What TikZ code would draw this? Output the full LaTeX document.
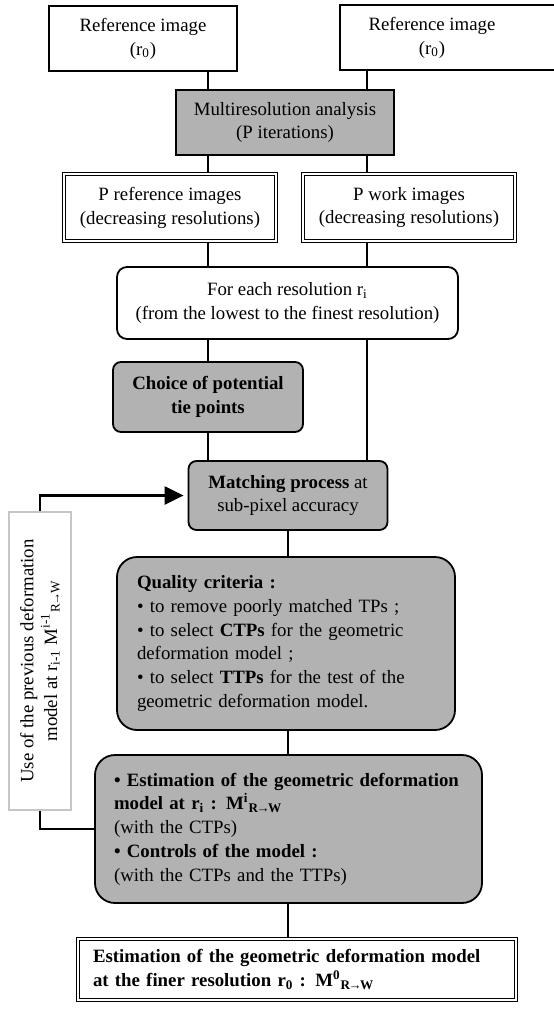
\documentclass[tikz,border=0pt]{standalone}
\usepackage{fontspec}
\setmainfont{Liberation Serif}
\usetikzlibrary{arrows.meta, positioning}

\newcommand{\RtoW}{R\kern-0.12em→\kern-0.12emW}

\begin{document}
\begin{tikzpicture}[x=0.5pt, y=-0.5pt, line width=0.9pt,
    every node/.style={font={\fontsize{9.4pt}{11.9pt}\selectfont}, align=center, inner sep=0pt},
    plainbox/.style={draw, rectangle},
    greybox/.style={draw, rectangle, fill=gray!60},
    doublebox/.style={draw, rectangle, double, line width=0.6pt, double distance=1.2pt},
    roundbox/.style={draw, rounded corners=5pt},
    greyround/.style={draw, rounded corners=#1, fill=gray!60},
    loopline/.style={line width=1.2pt},
    >={Triangle[length=9.5pt, width=9pt]}]
    \useasboundingbox (0,0) rectangle (553,1009);

    \node[plainbox, minimum width=94pt, minimum height=32.5pt] (refL) at (143,38.5) {Reference image\\(r\textsubscript{0})};
    \node[plainbox, minimum width=110pt, minimum height=32.5pt,
          label={[xshift=-9pt, align=center]center:Reference image\\(r\textsubscript{0})}] (refR) at (450,37.5) {};
    \node[greybox, minimum width=109pt, minimum height=32.5pt] (multi) at (285,122.5) {Multiresolution analysis\\(P iterations)};
    \node[doublebox, minimum width=106pt, minimum height=33.5pt] (prefs) at (170,207.5) {P reference images\\(decreasing resolutions)};
    \node[doublebox, minimum width=106pt, minimum height=33.5pt] (pwork) at (409,207.5) {P work images\\(decreasing resolutions)};
    \node[roundbox, minimum width=170.5pt, minimum height=36pt] (foreach) at (287.5,303) {For each resolution r\textsubscript{i}\\(from the lowest to the finest resolution)};
    \node[greyround=4pt, minimum width=95pt, minimum height=35pt, font={\fontsize{9.4pt}{11.9pt}\selectfont\bfseries}] (choice) at (208,397) {Choice of potential\\tie points};
    \node[greyround=4pt, minimum width=99.5pt, minimum height=34.5pt] (match) at (288,495.5) {\textbf{Matching process} at\\sub-pixel accuracy};
    \node[greyround=10pt, minimum width=169pt, minimum height=86.5pt, text width=149pt, inner xsep=10pt, align=left] (quality) at (286,643.5)
        {\textbf{Quality criteria :}\\• to remove poorly matched TPs ;\\• to select \textbf{CTPs} for the geometric\\deformation model ;\\• to select \textbf{TTPs} for the test of the\\geometric deformation model.};
    \node[greyround=10pt, minimum width=193.5pt, minimum height=74pt, text width=174.5pt, inner xsep=9.5pt, align=left] (estim) at (288.5,829)
        {\textbf{• Estimation of the geometric deformation}\\\textbf{model at r\textsubscript{i} : M\textsuperscript{i}\textsubscript{\RtoW}}\\(with the CTPs)\\\textbf{• Controls of the model :}\\(with the CTPs and the TTPs)};
    \node[doublebox, minimum width=219pt, minimum height=30.5pt, text width=204pt, inner xsep=7.5pt, align=left,
          font={\fontsize{9.4pt}{11.9pt}\selectfont\bfseries}] (final) at (297,969.5)
        {Estimation of the geometric deformation model\\at the finer resolution r\textsubscript{0} : M\textsuperscript{0}\textsubscript{\RtoW}};
    \node[draw=gray!45, rotate=90, minimum width=149pt, minimum height=31pt] (useb) at (40,661)
        {Use of the previous deformation\\model at r\textsubscript{i-1} M\textsuperscript{i-1}\textsubscript{\RtoW}};

    \coordinate (rline) at (367,0);
    \draw (refL.south -| choice) -- (multi.north -| choice);
    \draw (refR.south -| rline) -- (multi.north -| rline);
    \draw (multi.south -| choice) -- (prefs.north -| choice);
    \draw (multi.south -| rline) -- (pwork.north -| rline);
    \draw (prefs.south -| choice) -- (foreach.north -| choice);
    \draw (pwork.south -| rline) -- (foreach.north -| rline);
    \draw (foreach.south -| choice) -- (choice.north);
    \draw (choice.south) -- (choice |- match.north);
    \draw (foreach.south -| rline) -- (match.north -| rline);
    \draw (match.south) -- (match.south |- quality.north);
    \draw (quality.south -| match) -- (estim.north -| match);
    \draw (estim.south -| match) -- (final.north -| match);
    % feedback loop (useb is turned: west is its lower end, east its upper end)
    \draw[loopline] (estim.west) -| (useb.west);
    \draw[loopline, ->, shorten >=2pt] (useb.east) |- (match.west);
\end{tikzpicture}
\end{document}
